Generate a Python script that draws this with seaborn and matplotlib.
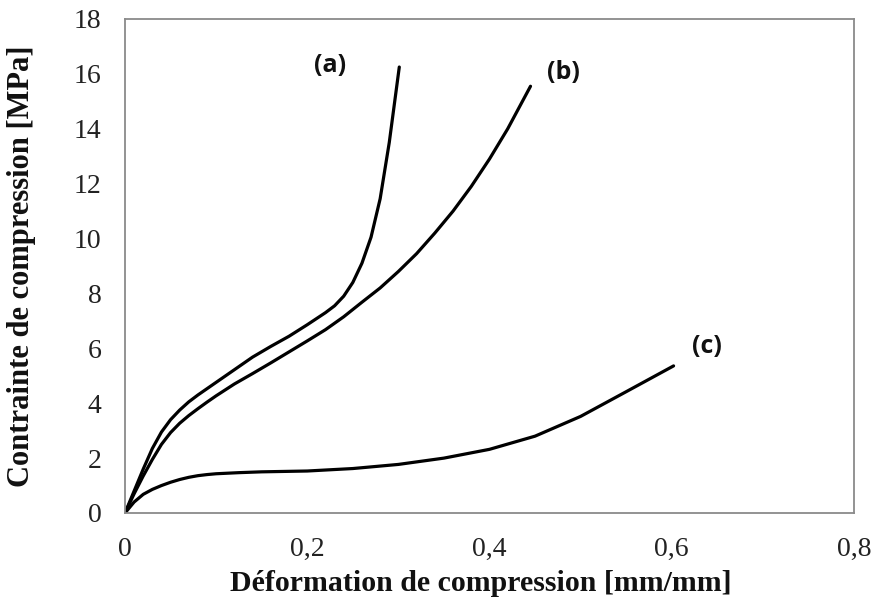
import matplotlib
matplotlib.use("Agg")
import matplotlib.pyplot as plt
import seaborn as sns
import pandas as pd

# Curve (a)
a_x = [0, 0.01, 0.02, 0.03, 0.04, 0.05, 0.06, 0.07, 0.08, 0.09, 0.1, 0.12, 0.14, 0.16, 0.18, 0.2, 0.22,
       0.23, 0.24, 0.25, 0.26, 0.27, 0.28, 0.29, 0.301]
a_y = [0, 0.8, 1.6, 2.35, 2.95, 3.4, 3.75, 4.05, 4.3, 4.53, 4.76, 5.22, 5.68, 6.07, 6.44, 6.86, 7.3,
       7.55, 7.9, 8.4, 9.1, 10.05, 11.45, 13.5, 16.25]
# Curve (b)
b_x = [0, 0.01, 0.02, 0.03, 0.04, 0.05, 0.06, 0.07, 0.08, 0.09, 0.1, 0.12, 0.14, 0.16, 0.18, 0.2, 0.22,
       0.24, 0.26, 0.28, 0.3, 0.32, 0.34, 0.36, 0.38, 0.4, 0.42, 0.445]
b_y = [0, 0.7, 1.35, 1.95, 2.5, 2.93, 3.27, 3.55, 3.8, 4.04, 4.27, 4.7, 5.08, 5.47, 5.87, 6.27, 6.68,
       7.15, 7.68, 8.2, 8.8, 9.45, 10.2, 11.0, 11.9, 12.9, 14.0, 15.55]
# Curve (c)
c_x = [0, 0.01, 0.02, 0.03, 0.04, 0.05, 0.06, 0.07, 0.08, 0.09, 0.1, 0.125, 0.15, 0.2, 0.25, 0.3, 0.35,
       0.4, 0.45, 0.5, 0.55, 0.602]
c_y = [0, 0.4, 0.68, 0.86, 1.0, 1.12, 1.22, 1.3, 1.36, 1.4, 1.43, 1.47, 1.5, 1.53, 1.62, 1.77, 2.0,
       2.32, 2.8, 3.52, 4.42, 5.36]

curve_labels = ["(a)", "(b)", "(c)"]
label_pos = [(0.225, 16.3), (0.481, 16.05), (0.639, 6.05)]

x_ticks = [0, 0.2, 0.4, 0.6, 0.8]
x_tick_labels = ["0", "0,2", "0,4", "0,6", "0,8"]
y_ticks = [0, 2, 4, 6, 8, 10, 12, 14, 16, 18]

df = pd.concat([
    pd.DataFrame({"x": a_x, "y": a_y, "curve": "a"}),
    pd.DataFrame({"x": b_x, "y": b_y, "curve": "b"}),
    pd.DataFrame({"x": c_x, "y": c_y, "curve": "c"}),
])

sns.set_theme(style="white")
plt.rcParams["font.family"] = ["Liberation Serif", "DejaVu Serif"]

fig = plt.figure(figsize=(8.75, 6.1), dpi=100)
ax = fig.add_axes([125 / 875, 1 - 513 / 610, (854 - 125) / 875, (513 - 19) / 610])

sns.lineplot(data=df, x="x", y="y", units="curve", estimator=None, color="black",
             linewidth=2.3, ax=ax, legend=False, sort=False)

ax.set_xlim(0, 0.8)
ax.set_ylim(0, 18)
ax.set_xticks(x_ticks)
ax.set_xticklabels(x_tick_labels)
ax.set_yticks(y_ticks)
ax.tick_params(axis="both", length=0, labelsize=20, colors="#222222")
ax.tick_params(axis="x", pad=17)
ax.tick_params(axis="y", pad=17)

for s in ax.spines.values():
    s.set_color("#8a8a8a")
    s.set_linewidth(1.3)

ax.set_xlabel("Déformation de compression [mm/mm]", fontsize=21.5, fontweight="bold",
              color="#111111")
ax.set_ylabel("Contrainte de compression [MPa]", fontsize=22, fontweight="bold",
              color="#111111")
ax.xaxis.set_label_coords(0.488, -0.115)
ax.yaxis.set_label_coords(-0.122, 0.5)

for lab, (lx, ly) in zip(curve_labels, label_pos):
    ax.text(lx, ly, lab, fontsize=18, fontweight="bold", family=["Open Sans", "DejaVu Sans"],
            ha="center", va="center", color="#111111")

fig.savefig("out.png", dpi=100)
